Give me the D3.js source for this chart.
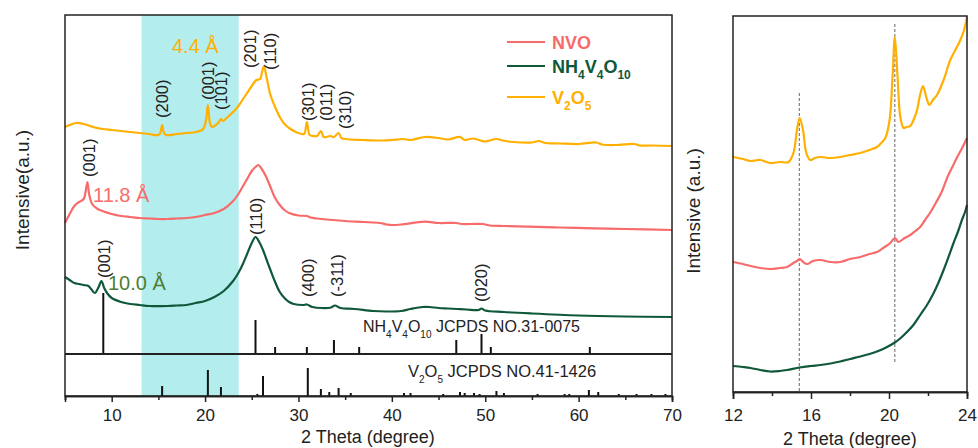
<!DOCTYPE html>
<html>
<head>
<meta charset="utf-8">
<script src="https://cdn.jsdelivr.net/npm/d3@7"></script>
<style>
  body { margin: 0; background: #fff; }
  svg { display: block; font-family: "Liberation Sans", Arial, sans-serif; }
</style>
</head>
<body>
<div id="chart"></div>
<script>
// ---- data: [2theta, intensity (a.u.)] ----
const v2o5Main = [[5,227],[5.5,229],[6.2,231],[7,230],[8,227],[9,225],[10,224],[11,223],[12,222],[13,221],[14,220],[15,219],[15.2,221],[15.4,229],[15.6,221],[15.8,219],[17,220],[18,221],[19,222],[19.8,225],[20.1,234],[20.3,249],[20.5,232],[20.7,227],[21,228],[21.4,231],[21.7,235],[21.9,233],[22.3,236],[23,242],[23.5,247],[24,254],[24.5,261],[25,268],[25.5,274],[25.9,275],[26.1,282],[26.3,288],[26.6,276],[27,259],[27.5,247],[28,237],[28.5,230],[29,226],[29.5,223],[30,221],[30.6,220],[30.9,232],[31.2,219],[31.6,218],[32,218],[32.4,223],[32.7,217],[33,217],[33.4,218],[33.8,217],[34.3,221],[34.6,216],[35,215],[37,214],[39,213.5],[40,214],[41.2,215],[42,214],[43.5,217],[45,216],[46,214.5],[47.3,217],[47.8,214],[48.7,215.5],[49.5,213.5],[50,212.5],[51.2,215],[51.9,213.5],[53,212],[55,211.5],[55.7,213],[56.5,211],[58,210.5],[60,210],[61.9,211.5],[62.5,209.5],[64,209],[66,210],[66.5,208.5],[68,208.5],[70,208]];
const nvoMain = [[5,131],[5.5,140],[6,148],[6.5,152],[7,155],[7.2,162],[7.4,172],[7.6,159],[7.9,150],[8.5,145],[9,143],[10,140],[11,138],[12,137],[13,136],[14,135.5],[15,135],[16,135],[17,135.5],[18,136],[19,137],[20,139],[21,141],[22,145],[23,153],[23.5,159],[24,167],[24.5,175],[25,183],[25.4,187],[25.7,189],[26,186],[26.5,178],[27,167],[27.5,156],[28,149],[28.5,144],[29,141],[30,138.5],[30.9,138],[31.3,136.5],[32,135.5],[33,134.5],[35,133],[37,132],[38.7,131],[39.5,129.5],[40,129],[41,129.5],[43.5,132.3],[45,131],[46.9,131],[47.5,130],[49.7,130],[50.5,128.5],[52,128],[54.6,127.3],[58,126.5],[61.7,125.7],[65,125],[70,124]];
const nh4Main = [[5,77],[5.5,74],[6,71],[6.5,70],[7,69],[7.5,68],[7.8,65],[8.2,61],[8.6,67],[8.9,73],[9.2,66],[9.5,61],[10,56],[11,52],[12,50],[13,49],[14,48],[16,48],[17,48.5],[18,49],[19,51],[20,53],[21,57],[22,63],[23,73],[23.5,80],[24,89],[24.5,100],[25,111],[25.4,117],[25.8,112],[26.2,104],[26.6,94],[27,84],[27.5,72],[28,62],[28.5,56],[29,52],[29.5,50],[30.5,49],[30.9,49.5],[31.5,47],[32.5,46],[33.5,46.5],[33.9,48.5],[34.5,46],[36,45],[38,43],[39.4,42.5],[41,43],[42,45],[43.3,47],[44,47],[45,46],[46,45.5],[47,45],[48,44.5],[49.3,44],[49.6,45.5],[50,43.5],[52,42],[55,40.5],[60,38.5],[65,37.5],[70,37]];

// reference patterns: [2theta, relative height]
const nh4Ref = [[9.1,61],[25.4,34],[27.5,7],[30.9,7],[33.8,14],[36.5,7],[46.9,14],[49.6,20],[50.6,7],[61.2,7]];
const v2o5Ref = [[15.4,10],[20.3,26],[21.7,9],[25.6,2],[26.2,20],[31.0,28],[32.4,7],[33.3,4],[34.3,8],[35.6,3],[41.3,3],[42.0,3],[45.5,2],[47.3,4],[47.8,3],[48.8,3],[49.4,2],[51.2,5],[52.0,3],[55.6,2],[58.5,2],[59.0,2],[61.1,6],[62.1,4],[64.3,2],[66.2,2],[67.8,2],[69.3,2]];

// zoomed region 12-24 degrees
const v2o5Zoom = [[12,235],[12.5,233],[12.9,231],[13.4,232],[13.9,229],[14.4,230],[14.85,230],[15.1,239],[15.28,262],[15.42,274],[15.59,262],[15.76,239],[15.96,232],[16.2,234],[16.48,235],[17,234],[17.5,235],[18,237],[18.53,239],[19,242],[19.38,245],[19.6,249],[19.81,254],[20.03,272],[20.18,315],[20.3,355],[20.44,315],[20.58,275],[20.75,264],[20.9,265],[21.09,266],[21.3,274],[21.44,282],[21.57,295],[21.74,306],[21.91,295],[22.07,287],[22.25,292],[22.46,297],[22.8,312],[23.14,332],[23.4,342],[23.66,352],[23.85,362],[24,375]];
const nvoZoom = [[12,130],[12.5,128],[12.9,126],[13.4,124],[13.9,123],[14.4,124],[14.77,125],[15.1,129],[15.28,131],[15.42,133],[15.6,130],[15.8,128],[16.1,131],[16.48,132],[17,130],[17.5,130],[18,133],[18.53,135],[19,138],[19.38,140],[19.7,144],[20.07,149],[20.3,154],[20.49,150],[20.8,154],[21.09,157],[21.35,161],[21.6,165],[21.85,172],[22.1,179],[22.4,189],[22.7,200],[23,215],[23.25,225],[23.5,235],[23.75,244],[24,254]];
const nh4Zoom = [[12,26],[12.5,25],[12.9,24],[13.4,22],[13.9,20.5],[14.4,21],[14.77,22],[15.42,24.5],[16,26],[16.48,27],[17,28.5],[17.5,30.5],[18,33],[18.53,35.5],[19,38],[19.38,40.5],[19.8,44],[20.3,49.5],[20.6,54],[20.92,60],[21.25,67],[21.6,77],[21.95,87],[22.29,99],[22.55,110],[22.8,122],[23.05,135],[23.31,149],[23.55,161],[23.74,172],[23.9,180],[24,187]];
const zoomGuides = [[15.4,1,299],[20.3,30,370]];

const peakLabels = [
  ["(200)",15.4,236],["(001)",20.3,254],["(101)",21.7,244],["(201)",24.8,286],["(110)",27.0,284],
  ["(301)",31.0,233],["(011)",33.0,233],["(310)",35.0,225],
  ["(001)",7.6,177],["(001)",9.2,76],["(110)",25.5,119],["(400)",31.0,57],["(-311)",34.2,57],["(020)",49.6,52]
];
const bandRange = [13.2, 23.6];
const xTicksMain = [10,20,30,40,50,60,70];
const xMinorMain = [5,15,25,35,45,55,65];
const xTicksZoom = [12,16,20,24];
const xMinorZoom = [14,18,22];

const colors = { nvo: "#f76b6b", nh4: "#10583a", v2o5: "#ffb000" };

// ---- layout ----
const width = 978, height = 448;
const svg = d3.select("#chart").append("svg").attr("width", width).attr("height", height);

const x = d3.scaleLinear().domain([5, 70]).range([65, 672]);
const y = d3.scaleLinear().domain([0, 340]).range([354, 14]);
const yRef = d3.scaleLinear().domain([0, 42]).range([396, 354]);
const xz = d3.scaleLinear().domain([12, 24]).range([733, 967]);
const yz = d3.scaleLinear().domain([0, 376]).range([392, 16]);

// cyan band
svg.append("rect")
  .attr("x", x(bandRange[0])).attr("y", 15)
  .attr("width", x(bandRange[1]) - x(bandRange[0])).attr("height", 381)
  .attr("fill", "#b4eded");
svg.append("line")
  .attr("x1", x(bandRange[0])).attr("x2", x(bandRange[0]))
  .attr("y1", 15).attr("y2", 396)
  .attr("stroke", "#d8f6f6").attr("stroke-dasharray", "4,3");

// reference sticks
svg.append("g").selectAll("line").data(nh4Ref).join("line")
  .attr("x1", d => x(d[0])).attr("x2", d => x(d[0]))
  .attr("y1", y(0)).attr("y2", d => y(d[1]))
  .attr("stroke", "#111").attr("stroke-width", 2);
svg.append("g").selectAll("line").data(v2o5Ref).join("line")
  .attr("x1", d => x(d[0])).attr("x2", d => x(d[0]))
  .attr("y1", yRef(0)).attr("y2", d => yRef(d[1]))
  .attr("stroke", "#111").attr("stroke-width", 2);

// curves
const line = d3.line().x(d => x(d[0])).y(d => y(d[1])).curve(d3.curveCatmullRom.alpha(0.5));
const lineZ = d3.line().x(d => xz(d[0])).y(d => yz(d[1])).curve(d3.curveCatmullRom.alpha(0.5));

[[v2o5Main, colors.v2o5], [nvoMain, colors.nvo], [nh4Main, colors.nh4]].forEach(([d, c]) => {
  svg.append("path").datum(d).attr("d", line)
    .attr("fill", "none").attr("stroke", c).attr("stroke-width", 2.2);
});

// frames
svg.append("rect").attr("x", 65).attr("y", 15).attr("width", 607).attr("height", 381)
  .attr("fill", "none").attr("stroke", "#222").attr("stroke-width", 1.5);
svg.append("line").attr("x1", 65).attr("x2", 672).attr("y1", 354).attr("y2", 354)
  .attr("stroke", "#222").attr("stroke-width", 2);

// axes (main)
svg.append("g").attr("transform", "translate(0,396)")
  .call(d3.axisBottom(x).tickValues(xTicksMain).tickSize(6).tickPadding(7));
svg.append("g").attr("transform", "translate(0,396)")
  .call(d3.axisBottom(x).tickValues(xMinorMain).tickSize(4).tickFormat(""));

// peak labels
svg.append("g").selectAll("text").data(peakLabels).join("text")
  .attr("transform", d => `translate(${x(d[1])},${y(d[2])}) rotate(-90)`)
  .attr("dy", "0.35em")
  .attr("font-size", 16.5).attr("fill", "#222")
  .text(d => d[0]);

// d-spacing annotations
svg.append("text").attr("x", 172).attr("y", 53).attr("font-size", 20).attr("fill", colors.v2o5).text("4.4 Å");
svg.append("text").attr("x", 93).attr("y", 202).attr("font-size", 20).attr("fill", colors.nvo).text("11.8 Å");
svg.append("text").attr("x", 108).attr("y", 290).attr("font-size", 20).attr("fill", "#4f7d33").text("10.0 Å");

// chemical formula text with subscripts
function chemText(g, parts, size, subSize, color, weight) {
  const t = g.append("text").attr("font-size", size).attr("fill", color).attr("font-weight", weight || "normal");
  parts.forEach(p => {
    if (p[1]) {
      t.append("tspan").attr("font-size", subSize).attr("dy", size * 0.35).text(p[0]);
    } else {
      const s = t.append("tspan").text(p[0]);
      if (p[2]) s.attr("dy", -size * 0.35);
    }
  });
  return t;
}
chemText(svg, [["NH"],["4",1],["V",0,1],["4",1],["O",0,1],["10",1],[" JCPDS NO.31-0075",0,1]], 16, 10, "#222")
  .attr("x", 363).attr("y", 332);
chemText(svg, [["V"],["2",1],["O",0,1],["5",1],[" JCPDS NO.41-1426",0,1]], 16.5, 10, "#222")
  .attr("x", 408).attr("y", 377);

// legend
const legendItems = [
  { parts: [["NVO"]], color: colors.nvo, y: 42 },
  { parts: [["NH"],["4",1],["V",0,1],["4",1],["O",0,1],["10",1]], color: colors.nh4, y: 66 },
  { parts: [["V"],["2",1],["O",0,1],["5",1]], color: colors.v2o5, y: 97 }
];
legendItems.forEach(it => {
  svg.append("line").attr("x1", 507).attr("x2", 545).attr("y1", it.y).attr("y2", it.y)
    .attr("stroke", it.color).attr("stroke-width", 2);
  chemText(svg, it.parts, 18, 12, it.color, "bold").attr("x", 552).attr("y", it.y + 6.5);
});

// axis titles
svg.append("text").attr("x", 368).attr("y", 443).attr("text-anchor", "middle")
  .attr("font-size", 18).attr("fill", "#222").text("2 Theta (degree)");
svg.append("text").attr("transform", "translate(29,190) rotate(-90)").attr("text-anchor", "middle")
  .attr("font-size", 19).attr("fill", "#222").text("Intensive(a.u.)");

// ---- right panel ----
svg.append("g").selectAll("line").data(zoomGuides).join("line")
  .attr("x1", d => xz(d[0])).attr("x2", d => xz(d[0]))
  .attr("y1", d => yz(d[1])).attr("y2", d => yz(d[2]))
  .attr("stroke", "#666").attr("stroke-width", 1).attr("stroke-dasharray", "3,2");

[[v2o5Zoom, colors.v2o5], [nvoZoom, colors.nvo], [nh4Zoom, colors.nh4]].forEach(([d, c]) => {
  svg.append("path").datum(d).attr("d", lineZ)
    .attr("fill", "none").attr("stroke", c).attr("stroke-width", 2.2);
});

svg.append("rect").attr("x", 733).attr("y", 16).attr("width", 234).attr("height", 376)
  .attr("fill", "none").attr("stroke", "#222").attr("stroke-width", 1.5);
svg.append("g").attr("transform", "translate(0,392)")
  .call(d3.axisBottom(xz).tickValues(xTicksZoom).tickSize(7).tickPadding(10));
svg.append("g").attr("transform", "translate(0,392)")
  .call(d3.axisBottom(xz).tickValues(xMinorZoom).tickSize(4).tickFormat(""));

svg.append("text").attr("x", 850).attr("y", 445).attr("text-anchor", "middle")
  .attr("font-size", 18).attr("fill", "#222").text("2 Theta (degree)");
svg.append("text").attr("transform", "translate(700,211) rotate(-90)").attr("text-anchor", "middle")
  .attr("font-size", 19).attr("fill", "#222").text("Intensive (a.u.)");

// axis styling
svg.selectAll(".domain").attr("stroke", "#222").attr("stroke-width", 1.5);
svg.selectAll(".tick line").attr("stroke", "#222").attr("stroke-width", 1.5);
svg.selectAll(".tick text").attr("font-size", 17).attr("fill", "#222")
  .attr("font-family", "'Liberation Sans', Arial, sans-serif");
</script>
</body>
</html>
